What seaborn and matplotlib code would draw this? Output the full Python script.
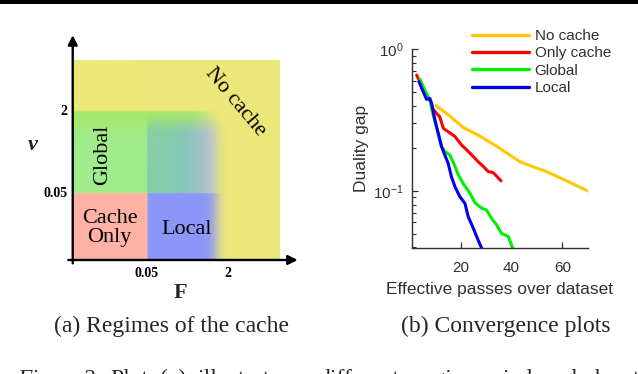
import numpy as np
import pandas as pd
import matplotlib
matplotlib.use("Agg")
import matplotlib.pyplot as plt
import seaborn as sns
from matplotlib.lines import Line2D
from matplotlib.patches import Rectangle

# ---------------- data: convergence plot ----------------
no_cache_x = [10.3, 14.5, 21.0, 27.6, 34.2, 39.4, 43.3, 47.3, 53.8, 60.4, 65.7, 70.0]
no_cache_y = [0.400, 0.353, 0.281, 0.244, 0.207, 0.179, 0.161, 0.151, 0.137, 0.121, 0.109, 0.100]

only_cache_x = [2.7, 4.6, 6.6, 7.9, 9.2, 10.5, 11.8, 13.2, 15.1, 17.8, 20.4, 23.7, 26.9, 28.9, 30.9, 32.8, 35.9]
only_cache_y = [0.658, 0.560, 0.475, 0.438, 0.377, 0.353, 0.334, 0.277, 0.262, 0.242, 0.211, 0.185, 0.161, 0.149, 0.137, 0.135, 0.118]

global_x = [4.0, 5.9, 7.9, 9.2, 10.5, 12.5, 13.8, 15.8, 17.8, 19.1, 21.0, 23.7, 25.6, 28.3, 30.2, 32.2, 34.2, 36.1, 38.8, 40.5]
global_y = [0.614, 0.516, 0.438, 0.344, 0.284, 0.206, 0.190, 0.179, 0.149, 0.130, 0.113, 0.0964, 0.0828, 0.0755, 0.0734, 0.0641, 0.0575, 0.0502, 0.0476, 0.0394]

local_x = [3.6, 5.3, 6.6, 7.9, 8.6, 9.9, 11.2, 12.5, 13.8, 15.1, 16.4, 17.8, 19.7, 21.7, 23.0, 25.0, 26.9, 28.3]
local_y = [0.591, 0.502, 0.443, 0.450, 0.415, 0.317, 0.255, 0.206, 0.179, 0.157, 0.126, 0.107, 0.0912, 0.0818, 0.0659, 0.0545, 0.0450, 0.0394]

methods = ["No cache", "Only cache", "Global", "Local"]
colors = {"No cache": "#FFC800", "Only cache": "#FF0000", "Global": "#00EE00", "Local": "#0000EE"}

# ---------------- data: regimes diagram ----------------
regime_names = ["Cache\nOnly", "Local", "Global", "No cache"]
F_tick_labels = ["0.05", "2"]
nu_tick_labels = ["0.05", "2"]

frames = []
for name, xs, ys in [("No cache", no_cache_x, no_cache_y),
                     ("Only cache", only_cache_x, only_cache_y),
                     ("Global", global_x, global_y),
                     ("Local", local_x, local_y)]:
    frames.append(pd.DataFrame({"passes": xs, "gap": ys, "method": name}))
df = pd.concat(frames, ignore_index=True)

sns.set_style("ticks")
plt.rcParams["font.family"] = ["Liberation Sans", "DejaVu Sans"]
plt.rcParams["mathtext.fontset"] = "custom"
plt.rcParams["mathtext.rm"] = "Liberation Sans"

W, H = 638, 374
fig = plt.figure(figsize=(W / 100, H / 100), dpi=100)

def fx(px):
    return px / W

def fy(py):
    return 1 - py / H

# top black rule
fig.add_artist(Rectangle((0, fy(4)), 1, 4 / H, transform=fig.transFigure,
                         color="black", lw=0))

# ---------------- panel (a) ----------------
axa = fig.add_axes([fx(60), fy(275), 245 / W, 245 / H])
axa.set_xlim(-0.172, 3.139)
axa.set_ylim(-0.225, 3.448)
axa.axis("off")

# layout positions of the regime boundaries
uF = [1.0, 2.1]
vN = [1.0, 2.23]
u_out, v_out = 2.79, 2.99

nu_, nv_ = 500, 500
uu = np.linspace(0, u_out, nu_)
vv = np.linspace(0, v_out, nv_)
U, V = np.meshgrid(uu, vv)

def sig(x, c, w):
    return 1 / (1 + np.exp(-(x - c) / w))

Yc = np.array([237, 232, 122]) / 255
Gc = np.array([160, 236, 140]) / 255
Gtop = np.array([168, 232, 105]) / 255
Bc = np.array([140, 150, 250]) / 255
Bmid = np.array([95, 160, 215]) / 255
Blav = np.array([170, 180, 240]) / 255
Rc = np.array([255, 178, 165]) / 255

img = np.ones((nv_, nu_, 3)) * Yc
# green band (left part solid, fading out towards the right)
mg = (1 - sig(U, 1.78, 0.06)) * sig(V, vN[0], 0.004) * (1 - sig(V, vN[1], 0.004))
gcol = Gc + (Gtop - Gc) * sig(V, 2.0, 0.08)[..., None]
img = img * (1 - mg[..., None]) + gcol * mg[..., None]
# blue band
ab = sig(U, uF[0], 0.004) * (1 - sig(U, 1.93, 0.045)) * (1 - sig(V, 2.05, 0.06))
alpha_mid = 0.4 + 0.35 * sig(U, 1.55, 0.12)
ab = ab * np.where(V < vN[0], 1.0, alpha_mid)
mid_col = Bmid + (Blav - Bmid) * sig(U, 1.6, 0.1)[..., None]
bcol = np.where((V < vN[0])[..., None], Bc, mid_col)
img = img * (1 - ab[..., None]) + bcol * ab[..., None]
# red corner
mr = (1 - sig(U, uF[0], 0.004)) * (1 - sig(V, vN[0], 0.004))
img = img * (1 - mr[..., None]) + Rc * mr[..., None]
img = np.clip(img, 0, 1)

axa.imshow(img, origin="lower", extent=[0, u_out, 0, v_out], aspect="auto",
           interpolation="bilinear", zorder=1)

arrow_kw = dict(arrowstyle="-|>", color="black", lw=1.7, mutation_scale=14,
                shrinkA=0, shrinkB=0)
axa.annotate("", xy=(3.04, 0), xytext=(-0.06, 0), arrowprops=arrow_kw,
             annotation_clip=False, zorder=3)
axa.annotate("", xy=(0, 3.37), xytext=(0, -0.05), arrowprops=arrow_kw,
             annotation_clip=False, zorder=3)

serif = ["Liberation Serif", "DejaVu Serif"]
tick_kw = dict(family=serif, fontsize=10, fontweight="bold", color="black")
for u, lab in zip(uF, F_tick_labels):
    axa.text(u, -0.2, lab, ha="center", va="center", **tick_kw)
for v, lab in zip(vN, nu_tick_labels):
    axa.text(-0.07, v, lab, ha="right", va="center", **tick_kw)

axa.text(1.45, -0.5, "F", ha="center", va="center", family=serif,
         fontsize=16, fontweight="bold")
axa.text(-0.54, 1.72, "ν", ha="center", va="center", family=serif,
         style="italic", fontweight="bold", fontsize=16)

lab_kw = dict(family=serif, fontsize=16, color="black", ha="center", va="center")
axa.text(0.5, 0.48, regime_names[0], linespacing=1.0, **lab_kw)
axa.text(1.535, 0.45, regime_names[1], **lab_kw)
axa.text(0.41, 1.57, regime_names[2], rotation=90, **lab_kw)
axa.text(2.19, 2.37, regime_names[3], rotation=-50, **lab_kw)

# ---------------- panel (b) ----------------
axb = fig.add_axes([fx(412.3), fy(248.3), 175.4 / W, 199 / H])
sns.lineplot(data=df, x="passes", y="gap", hue="method", hue_order=methods,
             palette=colors, sort=False, estimator=None, lw=2.2, legend=False,
             ax=axb)
axb.set_yscale("log")
axb.set_ylim(0.0394, 1.0)
axb.set_xlim(1, 70)
axb.set_xticks([20, 40, 60])
sns.despine(ax=axb)
txtc = "#303030"
for s in ["left", "bottom"]:
    axb.spines[s].set_color(txtc)
    axb.spines[s].set_linewidth(1.0)
axb.tick_params(which="major", direction="in", length=4, width=0.9,
                labelsize=11, colors=txtc)
axb.tick_params(axis="x", pad=9)
axb.tick_params(axis="y", pad=6)
axb.tick_params(which="minor", direction="in", length=3, width=0.8, colors=txtc)
axb.set_xlabel("Effective passes over dataset", fontsize=12.5, color=txtc, labelpad=5)
axb.set_ylabel("Duality gap", fontsize=12.5, color=txtc, labelpad=3)

handles = [Line2D([], [], color=colors[m], lw=2.4) for m in methods]
fig.legend(handles, methods, loc="upper left", bbox_to_anchor=(fx(472), fy(29)),
           frameon=False, handlelength=3.7, handletextpad=0.4, labelspacing=0.22,
           borderpad=0, borderaxespad=0, fontsize=11, labelcolor=txtc)

# ---------------- captions ----------------
fig.text(fx(171.5), fy(326.7), "(a) Regimes of the cache", ha="center", va="center",
         family=serif, fontsize=17)
fig.text(fx(506), fy(326.7), "(b) Convergence plots", ha="center", va="center",
         family=serif, fontsize=17)

words = ["Figure", "2.", "Plot", "(a)", "illustrates", "different", "regimes",
         "induced", "by", "the"]
word_x = [17, 83, 110, 160, 197, 318, 415, 503, 595, 633]
for i, (w, x) in enumerate(zip(words, word_x)):
    fig.text(fx(x), fy(385), w, ha="left", va="baseline", family=serif,
             fontsize=17, style="italic" if i < 2 else "normal")

fig.savefig("out.png", dpi=100)
